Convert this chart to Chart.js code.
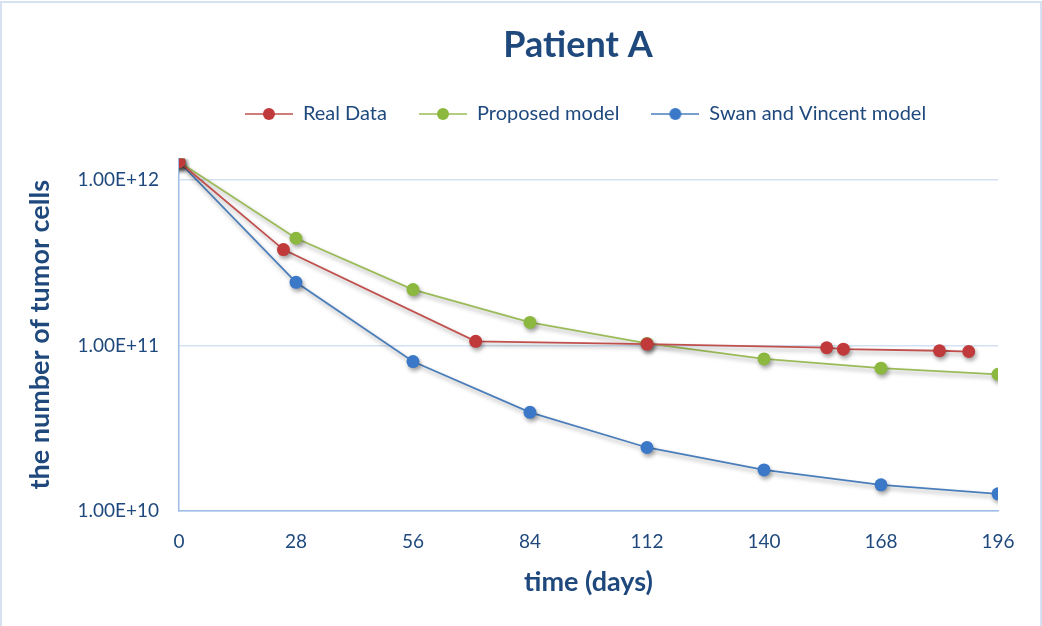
<!DOCTYPE html>
<html>
<head>
<meta charset="utf-8">
<script src="https://cdn.jsdelivr.net/npm/chart.js@4"></script>
<style>
  html, body { margin: 0; padding: 0; background: #fff; }
  #wrap { width: 1042px; height: 626px; position: relative; }
</style>
</head>
<body>
<div id="wrap"><canvas id="chart"></canvas></div>
<script>
// Tumor cell counts over time (days)
const realDays = [0, 25, 71, 112, 155, 159, 182, 189];
const realCells = [1.29e12, 3.8e11, 1.06e11, 1.02e11, 9.7e10, 9.5e10, 9.3e10, 9.2e10];

const modelDays = [0, 28, 56, 84, 112, 140, 168, 196];
const proposedCells = [1.29e12, 4.45e11, 2.18e11, 1.38e11, 1.03e11, 8.3e10, 7.3e10, 6.7e10];
const swanCells = [1.29e12, 2.41e11, 8.0e10, 3.95e10, 2.42e10, 1.77e10, 1.44e10, 1.27e10];

const yTicks = [1e10, 1e11, 1e12];
const seriesNames = ['Real Data', 'Proposed model', 'Swan and Vincent model'];

const NAVY = '#1f497d';
const FONT = 'Lato, "Open Sans", sans-serif';

const lineColors = ['#c0504d', '#9bbb59', '#4a7ebb'];
const dotColors = ['#c0393b', '#8cb83f', '#3b78c8'];

function pairs(xs, ys) {
    return xs.map((x, i) => ({ x: x, y: ys[i] }));
}

// legend swatch: short line with a marker in the middle
function legendSwatch(line, dot) {
    const c = document.createElement('canvas');
    c.width = 48; c.height = 16;
    const g = c.getContext('2d');
    g.strokeStyle = line;
    g.lineWidth = 1.5;
    g.beginPath(); g.moveTo(0, 8); g.lineTo(48, 8); g.stroke();
    g.fillStyle = dot;
    g.beginPath(); g.arc(24, 8, 6, 0, Math.PI * 2); g.fill();
    return c;
}

function dataset(label, data, i) {
    return {
        label: label,
        data: data,
        borderColor: lineColors[i],
        backgroundColor: dotColors[i],
        borderWidth: 1.8,
        pointRadius: 6.5,
        pointHoverRadius: 6.5,
        pointBorderWidth: 0,
        pointBackgroundColor: dotColors[i],
        tension: 0,
        fill: false
    };
}

// soft drop shadow under lines and markers
const shadowPlugin = {
    id: 'shadow',
    beforeDatasetDraw(chart) {
        const ctx = chart.ctx;
        ctx.save();
        ctx.shadowColor = 'rgba(0,0,0,0.35)';
        ctx.shadowBlur = 4;
        ctx.shadowOffsetX = 1.5;
        ctx.shadowOffsetY = 3;
    },
    afterDatasetDraw(chart) {
        chart.ctx.restore();
    }
};

// title centred a bit right, legend centred over the plot area
const placePlugin = {
    id: 'place',
    beforeDraw(chart) {
        const a = chart.chartArea;
        chart.titleBlock.left = 114;
        chart.titleBlock.right = 1042;
        chart.legend.left = a.left - 3;
        chart.legend.right = a.right - 3;
        chart.legend.adjustHitBoxes();
    }
};

// thin frame round the chart
const framePlugin = {
    id: 'frame',
    afterDraw(chart) {
        const ctx = chart.ctx;
        ctx.save();
        ctx.strokeStyle = '#d6e2f1';
        ctx.lineWidth = 2;
        ctx.beginPath();
        ctx.moveTo(1, 626); ctx.lineTo(1, 2); ctx.lineTo(1041, 2); ctx.lineTo(1041, 626);
        ctx.stroke();
        ctx.restore();
    }
};

const ctx = document.getElementById('chart');
new Chart(ctx, {
    type: 'line',
    data: {
        datasets: [
            dataset(seriesNames[0], pairs(realDays, realCells), 0),
            dataset(seriesNames[1], pairs(modelDays, proposedCells), 1),
            dataset(seriesNames[2], pairs(modelDays, swanCells), 2)
        ]
    },
    options: {
        responsive: true,
        maintainAspectRatio: false,
        animation: false,
        layout: { padding: { top: 0, right: 44, bottom: 0, left: 0 } },
        plugins: {
            tooltip: { enabled: false },
            title: {
                display: true,
                text: 'Patient A',
                color: NAVY,
                font: { family: FONT, size: 36, weight: 'bold' },
                padding: { top: 23.4, bottom: 5.4 }
            },
            // empty spacer between legend and plot
            subtitle: {
                display: true,
                text: '',
                weight: 500,
                font: { size: 10, lineHeight: 1 },
                padding: { top: 14.5, bottom: 0 }
            },
            legend: {
                display: true,
                labels: {
                    color: NAVY,
                    font: { family: FONT, size: 20 },
                    usePointStyle: true,
                    pointStyleWidth: 48,
                    padding: 32,
                    generateLabels(chart) {
                        return chart.data.datasets.map((ds, i) => ({
                            text: ds.label,
                            pointStyle: legendSwatch(lineColors[i], dotColors[i]),
                            fillStyle: dotColors[i],
                            strokeStyle: lineColors[i],
                            lineWidth: 0,
                            fontColor: NAVY,
                            hidden: false,
                            datasetIndex: i
                        }));
                    }
                }
            }
        },
        scales: {
            x: {
                type: 'linear',
                min: 0,
                max: 196,
                ticks: {
                    stepSize: 28,
                    color: NAVY,
                    font: { family: FONT, size: 19 },
                    padding: 19
                },
                grid: { display: false, drawTicks: false },
                border: { color: '#9dbde6', width: 1.5 },
                title: {
                    display: true,
                    text: 'time (days)',
                    color: NAVY,
                    font: { family: FONT, size: 27, weight: 'bold' },
                    padding: { top: 0, bottom: 28 }
                },
                afterFit(scale) { scale.height = 115; }
            },
            y: {
                type: 'logarithmic',
                min: 1e10,
                max: 1.35e12,
                afterBuildTicks(scale) {
                    scale.ticks = yTicks.map(v => ({ value: v }));
                },
                ticks: {
                    color: NAVY,
                    font: { family: FONT, size: 19 },
                    padding: 20,
                    callback: v => Number(v).toExponential(2).toUpperCase()
                },
                grid: { color: '#d3e1f3', lineWidth: 1.5, drawTicks: false },
                border: { color: '#9dbde6', width: 1.5 },
                title: {
                    display: true,
                    text: 'the number of tumor cells',
                    color: NAVY,
                    font: { family: FONT, size: 27, weight: 'bold' },
                    padding: { top: 24, bottom: 0 }
                },
                afterFit(scale) { scale.width = 179; }
            }
        }
    },
    plugins: [shadowPlugin, placePlugin, framePlugin]
});
</script>
</body>
</html>
